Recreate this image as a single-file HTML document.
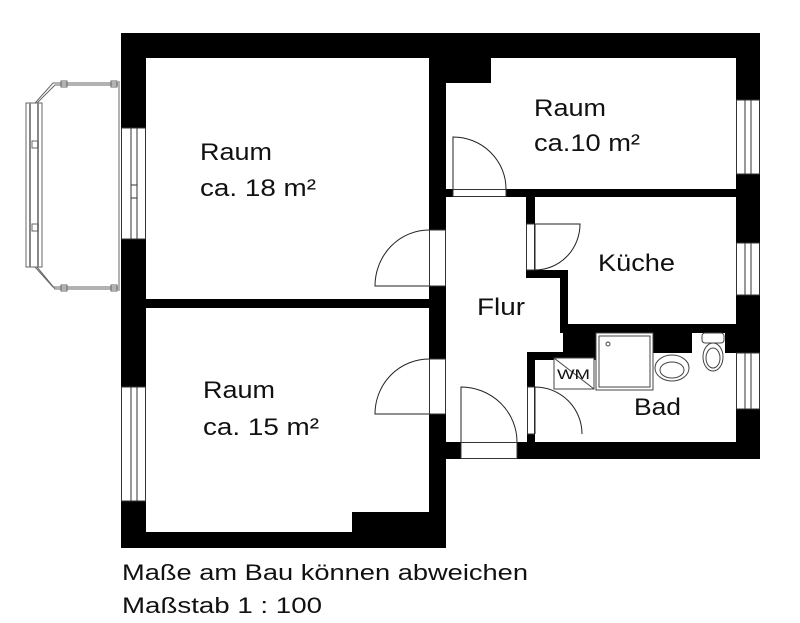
<!DOCTYPE html>
<html><head><meta charset="utf-8"><style>
html,body{margin:0;padding:0;background:#fff;}
svg{display:block;}
text{font-family:"Liberation Sans",Arial,sans-serif;fill:#111;}
</style></head><body>
<svg width="800" height="623" viewBox="0 0 800 623" xmlns="http://www.w3.org/2000/svg">
<rect width="800" height="623" fill="#fff"/>
<g fill="#000">
<rect x="121" y="33" width="639" height="25"/>
<rect x="121" y="33" width="25" height="95"/>
<rect x="121" y="239" width="25" height="148"/>
<rect x="121" y="501" width="25" height="47"/>
<rect x="121" y="532" width="325" height="16"/>
<rect x="352" y="512" width="94" height="36"/>
<rect x="121" y="299" width="325" height="9"/>
<rect x="429" y="33" width="17" height="197"/>
<rect x="429" y="286" width="17" height="73"/>
<rect x="429" y="414" width="17" height="134"/>
<rect x="429" y="33" width="62" height="50"/>
<rect x="736" y="33" width="24" height="67"/>
<rect x="736" y="174" width="24" height="69"/>
<rect x="736" y="295" width="24" height="58"/>
<rect x="736" y="409" width="24" height="50"/>
<rect x="506" y="189" width="230" height="8"/>
<rect x="446" y="189" width="7" height="8"/>
<rect x="526" y="197" width="9" height="27"/>
<rect x="526" y="270" width="9" height="8"/>
<rect x="526" y="270" width="42" height="8"/>
<rect x="560" y="270" width="8" height="63"/>
<rect x="560" y="324" width="176" height="9"/>
<rect x="563" y="324" width="33" height="28"/>
<rect x="527" y="352" width="69" height="8"/>
<rect x="653" y="333" width="39" height="20"/>
<rect x="725" y="333" width="11" height="20"/>
<rect x="527" y="352" width="8" height="35"/>
<rect x="527" y="434" width="8" height="25"/>
<rect x="446" y="442" width="15" height="17"/>
<rect x="517" y="442" width="243" height="17"/>
</g>
<g fill="#fff" stroke="#333" stroke-width="1">
<rect x="121.5" y="128" width="24" height="111"/>
<line x1="131" y1="128" x2="131" y2="239"/><line x1="137" y1="128" x2="137" y2="239"/>
<line x1="131" y1="185" x2="137" y2="185"/><line x1="131" y1="198" x2="137" y2="198"/>
<rect x="121.5" y="387" width="24" height="114"/>
<line x1="131" y1="387" x2="131" y2="501"/><line x1="137" y1="387" x2="137" y2="501"/>
<rect x="736.5" y="100" width="23" height="74"/>
<line x1="745" y1="100" x2="745" y2="174"/><line x1="751" y1="100" x2="751" y2="174"/>
<rect x="736.5" y="243" width="23" height="52"/>
<line x1="745" y1="243" x2="745" y2="295"/><line x1="751" y1="243" x2="751" y2="295"/>
<rect x="736.5" y="353" width="23" height="56"/>
<line x1="745" y1="353" x2="745" y2="409"/><line x1="751" y1="353" x2="751" y2="409"/>
</g>
<g fill="#fff" stroke="#333" stroke-width="1">
<rect x="429.5" y="230" width="16" height="56"/>
<rect x="429.5" y="359" width="16" height="55"/>
<rect x="453" y="189.5" width="53" height="7"/>
<rect x="526.5" y="224" width="8" height="46"/>
<rect x="527.5" y="387" width="7" height="47"/>
<rect x="461" y="442.5" width="56" height="16"/>
</g>
<g fill="none" stroke="#222" stroke-width="1">
<path d="M429 286 H375 A54 56 0 0 1 429 230"/>
<path d="M429 414 H375 A54 55 0 0 1 429 359"/>
<path d="M453 189 V137 A53 52 0 0 1 506 189"/>
<path d="M535 270 V224 H580 A45 46 0 0 1 535 270"/>
<path d="M461 442 V387 A56 55 0 0 1 517 442"/>
<path d="M535 434 V387 A47 47 0 0 1 582 434"/>
</g>
<g fill="none" stroke="#666" stroke-width="1">
<rect x="26" y="103" width="16" height="164" fill="#fff"/>
<line x1="30" y1="103" x2="30" y2="267" stroke="#888" stroke-width="2"/>
<line x1="38" y1="103" x2="38" y2="267" stroke="#888" stroke-width="2"/>
<path d="M35 103 L53 83 H118"/><path d="M37 103 L55 85 H118"/>
<path d="M35 267 L53 287 H118"/><path d="M37 267 L55 289 H118"/>
<rect x="61" y="81" width="6" height="6"/><rect x="111" y="81" width="6" height="6"/>
<rect x="61" y="285" width="6" height="6"/><rect x="111" y="285" width="6" height="6"/>
<rect x="32" y="141" width="6" height="7"/><rect x="32" y="224" width="6" height="7"/>
<line x1="119" y1="81" x2="119" y2="291"/>
</g>
<g fill="#fff" stroke="#444" stroke-width="1">
<rect x="596" y="333" width="57" height="57"/>
<rect x="599" y="336" width="51" height="51"/>
<circle cx="608" cy="344" r="2"/>
<rect x="554" y="358" width="40" height="31"/>
<line x1="554" y1="358" x2="594" y2="389"/>
<ellipse cx="672" cy="368" rx="17" ry="13"/>
<ellipse cx="672" cy="370" rx="12" ry="8"/>
<rect x="702" y="333" width="22" height="10" rx="3"/>
<ellipse cx="713" cy="357" rx="10" ry="14"/>
<ellipse cx="713" cy="358" rx="7" ry="10"/>
</g>
<text x="557" y="379" font-size="14" textLength="33" lengthAdjust="spacingAndGlyphs">WM</text>
<g font-size="24">
<text x="200" y="160" textLength="72" lengthAdjust="spacingAndGlyphs">Raum</text>
<text x="200" y="196" textLength="116" lengthAdjust="spacingAndGlyphs">ca. 18 m²</text>
<text x="534" y="116" textLength="72" lengthAdjust="spacingAndGlyphs">Raum</text>
<text x="534" y="151" textLength="106" lengthAdjust="spacingAndGlyphs">ca.10 m²</text>
<text x="598" y="271" textLength="77" lengthAdjust="spacingAndGlyphs">Küche</text>
<text x="477" y="315" textLength="48" lengthAdjust="spacingAndGlyphs">Flur</text>
<text x="203" y="398" textLength="72" lengthAdjust="spacingAndGlyphs">Raum</text>
<text x="203" y="435" textLength="116" lengthAdjust="spacingAndGlyphs">ca. 15 m²</text>
<text x="634" y="415" textLength="47" lengthAdjust="spacingAndGlyphs">Bad</text>
</g>
<g font-size="22">
<text x="122" y="580" textLength="406" lengthAdjust="spacingAndGlyphs">Maße am Bau können abweichen</text>
<text x="122" y="613" textLength="200" lengthAdjust="spacingAndGlyphs">Maßstab 1 : 100</text>
</g>
</svg>
</body></html>
